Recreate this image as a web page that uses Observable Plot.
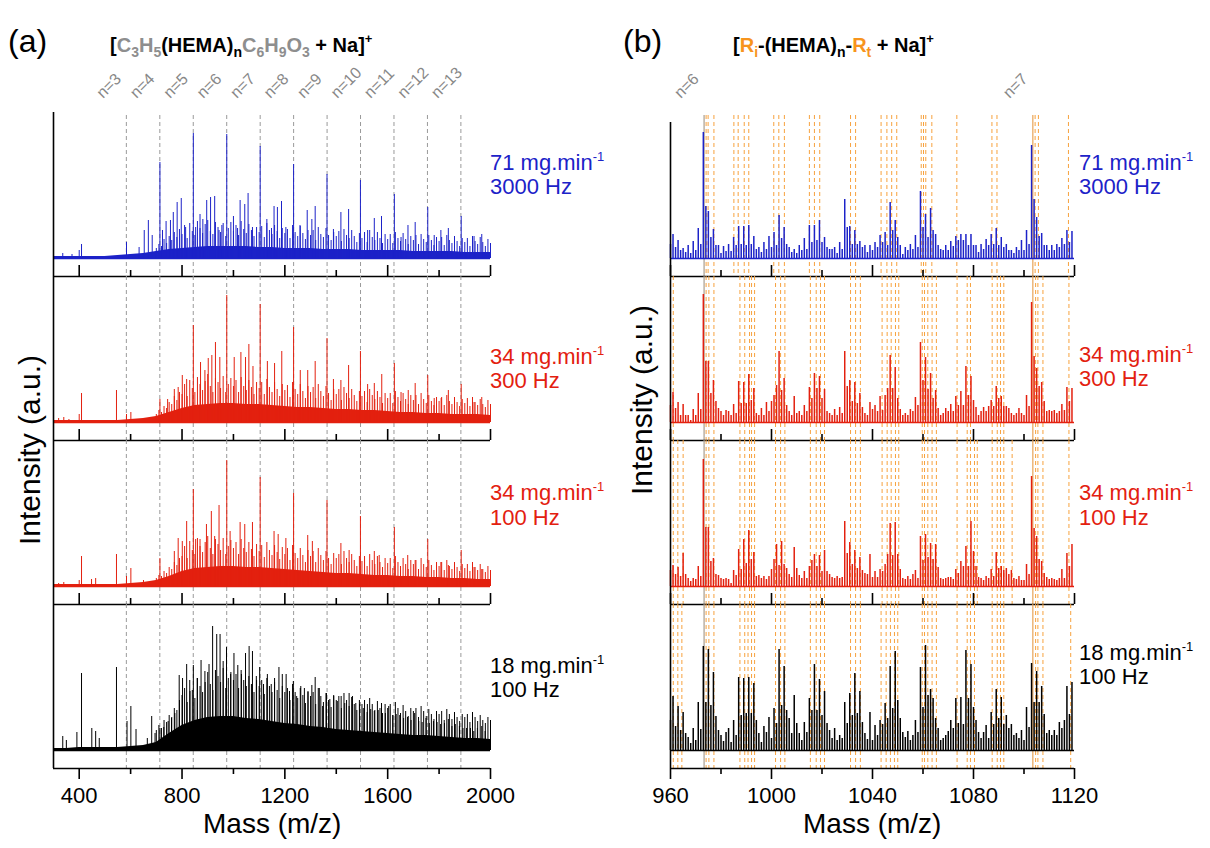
<!DOCTYPE html>
<html><head><meta charset="utf-8">
<script src="https://cdn.jsdelivr.net/npm/d3@7"></script>
<script src="https://cdn.jsdelivr.net/npm/@observablehq/plot@0.6"></script>
<style>
body{margin:0;background:#fff;font-family:"Liberation Sans",Arial,sans-serif;}
#fig{position:relative;width:1210px;height:848px;overflow:hidden;background:#fff;}
.abs{position:absolute;white-space:nowrap;}
.plabel{font-size:32px;color:#000;}
.title{font-size:20px;font-weight:bold;color:#000;}
.gray{color:#8e8e8e;}
.orng{color:#f7941d;}
.rlab{font-size:22px;line-height:30px;}
.axt{font-size:28px;}
sub{font-size:14px;vertical-align:-5px;}
sup{font-size:13px;vertical-align:9px;}
</style></head><body><div id="fig"></div>
<script>
// ---------------- DATA ----------------
// Panel (a): x axis
const ticksMajorA = [400, 800, 1200, 1600, 2000];
const ticksMinorA = [600, 1000, 1400, 1800];
const nLabelsA = ["n=3","n=4","n=5","n=6","n=7","n=8","n=9","n=10","n=11","n=12","n=13"];
const nMassA = [583.4, 713.6, 843.7, 973.8, 1104.0, 1234.1, 1364.3, 1494.4, 1624.5, 1754.7, 1884.8];

// dense "floor" of the spectra (a), sampled every 50 m/z
const envMassA = [300,350,400,450,500,550,600,650,700,750,800,850,900,950,1000,1050,1100,1150,1200,1250,1300,1350,1400,1450,1500,1550,1600,1650,1700,1750,1800,1850,1900,1950,2000];
const env71 = [2,2,2,2,2,3,4,5,7,9,10,11,12,12,12,12,11,11,10,10,10,9,9,9,8,8,8,8,7,7,7,7,6,6,6];
const env34_300 = [2,2,2,2,2,2,3,4,6,10,14,17,18,19,19,18,18,17,16,15,15,14,13,13,12,12,11,10,10,9,9,8,8,8,7];
const env34_100 = [2,2,2,2,2,2,3,4,6,10,15,18,19,20,20,19,19,18,17,16,15,14,13,13,12,11,11,10,10,9,9,8,8,7,7];
const env18 = [2,2,3,3,3,3,4,5,8,17,25,30,33,34,34,32,31,29,27,26,24,23,21,20,19,18,17,16,15,15,14,13,12,12,11];

// peaks (a)
const pkMass71 = [336,372,400,409,584,633,653,669,684,714,724,738,755,766,781,797,814,844,853,870,881,896,911,927,944,955,974,1000,1016,1026,1044,1057,1074,1104,1130,1148,1158,1171,1187,1204,1234,1259,1287,1305,1318,1364,1389,1418,1448,1494,1522,1548,1576,1626,1652,1679,1707,1756,1781,1807,1836,1886,1936,1966];
const pkInt71 = [5,4,8,14,16,11,28,38,23,96,28,37,38,46,56,60,31,125,31,44,39,58,61,62,28,33,124,42,30,58,54,65,31,112,39,30,52,51,57,31,94,33,48,39,52,84,29,46,49,78,28,40,42,64,21,33,36,51,23,28,30,42,22,24];
const pkMass34_300 = [320,340,360,400,409,545,584,601,714,744,770,785,801,818,844,872,889,902,916,930,947,974,1003,1029,1047,1060,1076,1104,1132,1160,1188,1234,1260,1289,1318,1364,1389,1418,1448,1494,1522,1548,1577,1626,1652,1680,1707,1756,1781,1808,1836,1886,1936,1966];
const pkInt34_300 = [4,5,3,8,29,32,8,10,23,23,33,35,47,43,97,60,52,64,67,80,65,127,65,70,65,78,56,118,61,59,71,95,52,52,61,84,43,42,57,71,38,39,48,59,30,32,39,47,24,24,32,38,20,25];
const pkMass34_100 = [320,340,400,409,448,464,545,584,601,650,714,770,785,801,818,844,853,870,895,914,927,944,974,987,1026,1044,1074,1104,1158,1174,1204,1234,1289,1307,1364,1418,1450,1494,1548,1567,1626,1678,1707,1756,1807,1836,1886,1936,1966];
const pkInt34_100 = [3,4,6,30,7,8,32,10,18,6,28,35,48,45,65,97,47,47,62,75,50,81,126,55,64,62,64,109,55,52,48,93,51,45,86,43,36,70,35,31,59,31,26,47,24,21,36,19,17];
const pkMass18 = [336,350,391,409,449,464,478,545,586,601,621,665,682,695,714,729,746,759,772,789,802,818,831,844,859,874,889,905,919,935,948,960,973,989,1002,1017,1031,1047,1061,1074,1089,1102,1117,1132,1147,1160,1177,1190,1205,1218,1233,1246,1262,1276,1290,1305,1318,1334,1347,1362,1375,1390,1404,1419,1433,1450,1463,1476,1491,1505,1521,1534,1548,1563,1576,1591,1604,1620,1633,1647,1662,1677,1691,1705,1721,1734,1749,1762,1778,1792,1806,1821,1836,1850,1863,1879,1893,1907,1922,1935,1949,1966,1979];
const pkInt18 = [14,10,18,77,22,19,12,83,29,44,21,12,34,17,22,23,29,32,37,75,72,86,59,85,72,90,79,86,124,116,116,89,103,76,97,85,76,97,104,99,74,83,66,76,66,72,83,76,76,59,69,54,64,62,59,65,73,62,44,57,51,55,49,54,47,57,54,47,46,42,46,41,39,40,47,37,44,35,36,35,32,33,30,37,29,28,32,27,29,28,26,27,31,24,26,24,22,22,22,19,22,24,19];

// minor ("grass") peaks of (a), one reading every 10 m/z from 700 to 2000
const grassMassA = d3.range(700, 2001, 10);
const grass71 = [10,14,12,19,15,22,18,26,21,29, 24,33,20,35,27,23,37,30,25,34, 38,27,24,36,31,26,35,22,30,36,
 27,33,23,37,29,25,34,28,22,31, 26,32,21,35,28,24,33,27,20,30, 25,29,20,33,26,22,32,25,19,28, 23,28,18,31,24,21,30,23,18,26,
 22,27,17,29,23,20,28,22,16,25, 20,26,16,28,21,18,26,20,15,24, 19,24,15,26,20,17,25,19,14,22, 18,23,14,24,19,16,23,18,13,21,
 17,21,13,23,18,15,22,17,12,20, 16,20,12,22,17,14,21,16,12,19,15];
const grass34_300 = [8,12,10,16,14,20,18,26,22,30, 28,38,26,42,34,30,45,38,32,41, 48,36,30,44,40,34,46,30,38,44,
 36,42,30,45,36,32,42,35,28,40, 34,40,28,43,35,30,40,33,26,38, 32,37,25,40,33,28,38,31,24,36, 30,35,24,38,31,26,36,29,22,33,
 28,33,22,35,29,24,33,27,21,31, 26,31,20,33,27,23,31,25,19,29, 24,29,19,31,25,21,29,23,18,27, 22,27,18,29,23,19,27,21,17,25,
 21,25,17,27,21,18,25,20,16,23, 19,24,16,25,20,17,23,18,15,22,18];
const grass34_100 = [8,11,10,15,13,19,17,24,21,28, 30,40,28,45,36,32,48,40,34,44, 50,38,32,47,42,36,48,32,40,46,
 38,44,32,47,38,34,44,37,30,42, 35,41,29,44,36,31,41,34,27,39, 32,38,26,41,33,28,38,31,24,36, 30,35,24,38,31,26,35,28,22,33,
 28,32,22,35,28,24,32,26,20,30, 25,30,20,32,26,22,30,24,19,28, 23,28,18,30,24,20,28,22,17,26, 22,26,17,28,22,19,26,21,16,24,
 20,24,16,26,20,17,24,19,15,22, 18,22,15,24,19,16,22,17,14,20,16];
const grass18 = [20,25,22,30,28,35,33,42,40,50, 55,62,48,70,60,52,72,64,58,68, 78,66,60,80,74,68,82,62,72,78,
 70,76,62,80,70,64,74,66,58,70, 64,70,56,72,64,58,68,60,52,64, 58,62,50,66,58,52,62,55,47,58, 54,58,46,62,54,48,57,50,43,54,
 50,54,42,57,50,44,53,46,40,50, 46,50,38,52,46,40,49,42,37,46, 42,46,35,48,42,37,45,39,34,42, 39,42,33,44,39,34,41,36,31,39,
 36,39,30,41,36,31,38,33,29,36, 33,36,28,38,33,29,35,30,27,33,30];

// Panel (b): nominal masses 960..1119
const ticksMajorB = [960, 1000, 1040, 1080, 1120];
const ticksMinorB = [980, 1020, 1060, 1100];
const massesB = d3.range(960, 1120);
const nLabelsB = ["n=6", "n=7"];
const nMassB = [973.3, 1103.5];
const intB71 = [14,24,11,18,8,10,6,13,5,17, 8,30,14,126,52,47,21,29,13,13, 5,12,7,14,7,21,13,32,14,32, 13,33,14,22,9,11,6,16,9,22,
 11,26,13,43,20,31,14,11,6,9, 5,13,8,20,9,33,16,33,18,38, 16,21,11,9,9,11,5,16,9,59, 31,32,14,28,14,17,11,13,6,13,
 8,16,11,23,16,26,13,56,28,38, 21,13,4,11,8,14,9,23,11,67, 31,44,21,50,28,24,13,9,8,13, 8,17,12,22,18,24,18,24,13,24,
 13,13,6,14,9,19,13,24,14,30, 13,21,11,14,8,8,5,11,8,18, 8,28,14,113,59,41,22,25,13,13, 8,13,8,14,11,20,14,28,16,27];
const intB34_300 = [17,30,14,20,7,18,7,7,2,13, 7,29,13,128,61,61,29,42,21,14, 11,7,12,11,7,18,9,41,19,40, 19,48,22,34,9,7,14,7,20,11,
 21,27,37,71,32,44,17,11,7,26, 9,11,7,17,11,35,24,49,34,46, 24,33,11,9,7,13,7,15,9,71, 36,42,21,40,19,29,15,9,7,20,
 13,17,11,26,12,27,34,67,34,55, 24,13,7,9,7,13,11,25,17,80, 42,65,33,49,24,32,14,7,9,14, 11,18,11,26,17,31,17,56,27,46,
 22,15,7,11,15,11,16,22,16,36, 24,26,16,16,14,9,7,9,14,9, 7,27,16,120,66,54,36,40,21,11, 12,11,12,9,11,18,12,35,21,34];
const intB34_100 = [16,21,12,19,10,33,12,8,5,8, 7,20,10,127,59,59,25,28,12,11, 8,7,8,7,3,16,11,37,17,47, 23,56,27,34,10,11,8,10,7,10,
 17,27,42,21,45,22,18,12,9,39, 18,11,8,15,8,20,26,32,20,31, 15,36,15,12,9,8,10,8,9,65, 33,44,22,36,18,29,16,13,12,32,
 9,15,9,17,15,22,32,63,31,64, 32,17,8,7,10,7,12,16,8,50, 26,52,29,43,27,42,19,8,7,8, 9,9,7,17,13,25,20,40,20,65,
 35,20,9,8,6,10,8,17,10,34, 18,20,16,18,12,16,8,7,10,6, 6,22,12,110,58,50,27,25,13,9, 7,8,7,6,8,17,8,33,20,42];
const intB18 = [30,54,24,44,20,38,17,13,7,22, 10,48,21,104,48,101,45,78,34,20, 15,9,18,22,8,30,15,73,35,72, 37,73,37,67,30,17,8,24,18,33,
 12,42,27,101,45,84,40,32,17,55, 27,17,10,28,18,52,40,86,40,71, 35,59,27,20,12,22,10,15,12,48, 27,57,35,77,37,59,28,17,11,38,
 10,25,15,30,26,47,32,84,42,99, 50,32,18,13,19,10,15,30,18,83, 43,105,55,61,52,32,22,10,12,15, 19,30,22,52,27,53,26,100,52,86,
 43,30,18,12,18,25,12,38,26,61, 32,53,26,35,22,26,15,17,12,20, 10,43,23,87,48,79,48,64,36,17, 20,15,20,15,28,22,30,64,36,68];

// assigned end-group combinations (orange dashed markers) in panel (b)
const solidB = [973.3, 1103.5];
const assignB1 = [974.1,974.9,977.2,985.1,986.8,989.2,991.0,1000.9,1002.9,1005.1,1015.0,1017.0,1019.1,1031.3,1033.3,1043.4,1045.7,1047.6,1049.6,1059.3,1060.2,1061.1,1063.5,1073.4,1087.3,1089.3,1104.4,1105.7,1117.6];
const assignB2 = [961.1,974.1,975.2,977.2,987.5,989.4,991.3,992.1,993.3,1001.6,1003.6,1005.3,1015.4,1017.7,1019.4,1021.0,1031.3,1033.3,1035.2,1043.8,1045.8,1047.4,1049.1,1050.4,1059.7,1060.6,1061.9,1063.6,1065.3,1073.5,1077.5,1078.8,1087.4,1089.4,1090.7,1092.0,1104.6,1105.5,1107.5,1117.8];
const assignB3 = [961.1,962.9,965.0,974.1,975.2,977.2,987.5,989.4,991.3,992.1,993.3,1001.6,1003.6,1005.3,1015.4,1017.7,1019.4,1021.0,1031.3,1033.3,1035.2,1043.8,1045.8,1047.4,1049.1,1050.4,1059.7,1060.6,1061.9,1063.6,1065.3,1073.5,1077.5,1078.8,1080.4,1081.5,1087.4,1089.4,1090.7,1092.0,1095.3,1104.6,1105.5,1107.5,1117.8];
const assignB4 = [961.1,962.9,964.5,974.1,975.2,977.2,987.5,989.4,990.7,992.1,993.3,1001.6,1003.6,1005.3,1015.4,1017.7,1019.4,1021.0,1031.3,1033.3,1035.2,1043.4,1045.4,1047.1,1048.7,1050.0,1059.7,1060.6,1061.9,1063.6,1065.3,1073.5,1077.5,1078.8,1080.4,1087.4,1089.4,1090.7,1092.0,1104.6,1105.5,1107.5,1118.5];

const conds = [
  {rate: "71", hz: "3000 Hz", color: "#1c22c8"},
  {rate: "34", hz: "300 Hz", color: "#e3200f"},
  {rate: "34", hz: "100 Hz", color: "#e3200f"},
  {rate: "18", hz: "100 Hz", color: "#000000"}
];

// ---------------- LAYOUT ----------------
const fig = document.getElementById("fig");
const subTops = [112, 276, 440, 604];
const SUBH = 164, MT = 10;
const YDOM = [-18, 146];
const FONT = "'Liberation Sans', Arial, sans-serif";

function place(el, left, top) {
  el.style.position = "absolute";
  el.style.left = left + "px";
  el.style.top = top + "px";
  fig.appendChild(el);
}

function makeSub(opt) {
  const isBottom = opt.bottom;
  const MB = isBottom ? 60 : 2;
  const h = MT + SUBH + MB;
  const k = isBottom ? 1 : -1;
  const marks = [];
  if (opt.guides) marks.push(Plot.ruleX(opt.guides, {x: d => d, y1: opt.guideTop, y2: -18, stroke: opt.guideColor, strokeWidth: 1, strokeDasharray: "4,3"}));
  if (opt.solid) marks.push(Plot.ruleX(opt.solid, {x: d => d, y1: opt.guideTop, y2: -18, stroke: (d, i) => i === 0 ? "#a89c8e" : "#e8a458", strokeWidth: 1.2}));
  if (opt.env) marks.push(Plot.areaY(opt.env.y, {x: opt.env.x, y: d => d, fill: opt.color, curve: "linear"}));
  if (opt.grass) marks.push(Plot.ruleX(opt.grass.y, {x: opt.grass.x, y1: 0, y2: d => d, stroke: opt.color, strokeWidth: 1}));
  marks.push(Plot.ruleX(opt.peaks.y, {x: opt.peaks.x, y1: 0, y2: d => d, stroke: opt.color, strokeWidth: opt.peakWidth}));
  marks.push(Plot.ruleY([0], {stroke: opt.color, strokeWidth: 1.6}));
  marks.push(Plot.ruleY([-18], {stroke: "#000", strokeWidth: 1.6}));
  marks.push(Plot.ruleX([opt.xdom[0]], {y1: -18, y2: opt.axisTop, stroke: "#000", strokeWidth: 1.6}));
  marks.push(Plot.axisX(opt.major, {tickSize: 11 * k, tickPadding: 8, strokeWidth: 1.6, stroke: "#000",
    tickFormat: isBottom ? d => String(d) : () => "", fontSize: 22, fill: "#000"}));
  marks.push(Plot.axisX(opt.minor, {tickSize: 6 * k, strokeWidth: 1.6, stroke: "#000", tickFormat: () => ""}));
  if (opt.nlab) marks.push(Plot.text(opt.nlab.x, {x: d => d, y: 146, text: (d, i) => opt.nlab.t[i], rotate: -45,
    textAnchor: "start", dx: -27, dy: -17, fill: "#888888", fontSize: 16}));
  const svg = Plot.plot({
    width: opt.width, height: h,
    marginLeft: 10, marginRight: 10, marginTop: MT, marginBottom: MB,
    x: {domain: opt.xdom, axis: null},
    y: {domain: YDOM, axis: null},
    style: {background: "transparent", overflow: "visible", fontFamily: FONT, fontSize: "22px", color: "#000"},
    marks
  });
  place(svg, opt.left, opt.top - MT);
}

const specA = [
  {env: env71, px: pkMass71, py: pkInt71, g: grass71},
  {env: env34_300, px: pkMass34_300, py: pkInt34_300, g: grass34_300},
  {env: env34_100, px: pkMass34_100, py: pkInt34_100, g: grass34_100},
  {env: env18, px: pkMass18, py: pkInt18, g: grass18}
];
const specB = [intB71, intB34_300, intB34_100, intB18];
const assignB = [assignB1, assignB2, assignB3, assignB4];

for (let i = 0; i < 4; i++) {
  makeSub({
    left: 43, width: 457, top: subTops[i], xdom: [300, 2000], bottom: i === 3,
    major: ticksMajorA, minor: ticksMinorA, color: conds[i].color, peakWidth: 1,
    env: {x: envMassA, y: specA[i].env}, grass: {x: grassMassA, y: specA[i].g},
    peaks: {x: specA[i].px, y: specA[i].py},
    guides: nMassA, guideColor: "#9a9a9a", guideTop: i === 0 ? 143 : 146,
    axisTop: 146, nlab: i === 0 ? {x: nMassA, t: nLabelsA} : null
  });
  makeSub({
    left: 660, width: 424, top: subTops[i], xdom: [960, 1120], bottom: i === 3,
    major: ticksMajorB, minor: ticksMinorB, color: conds[i].color, peakWidth: 1.5,
    env: null, peaks: {x: massesB, y: specB[i]},
    guides: assignB[i], guideColor: "#f7a23e", solid: solidB, guideTop: i === 0 ? 143 : 146,
    axisTop: i === 0 ? 136 : 146, nlab: i === 0 ? {x: nMassB, t: nLabelsB} : null
  });
}

// ---------------- TEXT ----------------
function html(str, cls, left, top, style) {
  const d = document.createElement("div");
  d.className = "abs " + cls;
  d.innerHTML = str;
  if (style) d.setAttribute("style", style);
  place(d, left, top);
  return d;
}
html("(a)", "plabel", 8, 23);
html("(b)", "plabel", 623, 23);
html('[<span class="gray">C<sub>3</sub>H<sub>5</sub></span>(HEMA)<sub>n</sub><span class="gray">C<sub>6</sub>H<sub>9</sub>O<sub>3</sub></span> + Na]<sup>+</sup>', "title", 110, 31);
html('[<span class="orng">R<sub>i</sub></span>-(HEMA)<sub>n</sub>-<span class="orng">R<sub>t</sub></span> + Na]<sup>+</sup>', "title", 733, 31);

const rlabA = [[142, 172], [336, 366], [472, 503], [645, 675]];
const rlabB = [[142, 172], [334, 364], [472, 503], [632, 662]];
for (let i = 0; i < 4; i++) {
  const c = conds[i].color;
  for (const [x, tops] of [[490, rlabA[i]], [1079, rlabB[i]]]) {
    html(conds[i].rate + " mg.min<sup>-1</sup>", "rlab", x, tops[0], "color:" + c);
    html(conds[i].hz, "rlab", x, tops[1], "color:" + c);
  }
}
const mA = html("Mass (m/z)", "axt", 0, 808); mA.style.left = (272 - mA.offsetWidth / 2) + "px";
const mB = html("Mass (m/z)", "axt", 0, 808); mB.style.left = (872 - mB.offsetWidth / 2) + "px";
for (const [cx, cy] of [[30, 450], [642, 400]]) {
  const d = html("Intensity (a.u.)", "axt", 0, 0);
  d.style.fontSize = "30px";
  const w = d.offsetWidth, hh = d.offsetHeight;
  d.style.left = (cx - w / 2) + "px";
  d.style.top = (cy - hh / 2) + "px";
  d.style.transform = "rotate(-90deg)";
}
</script>
</body></html>
